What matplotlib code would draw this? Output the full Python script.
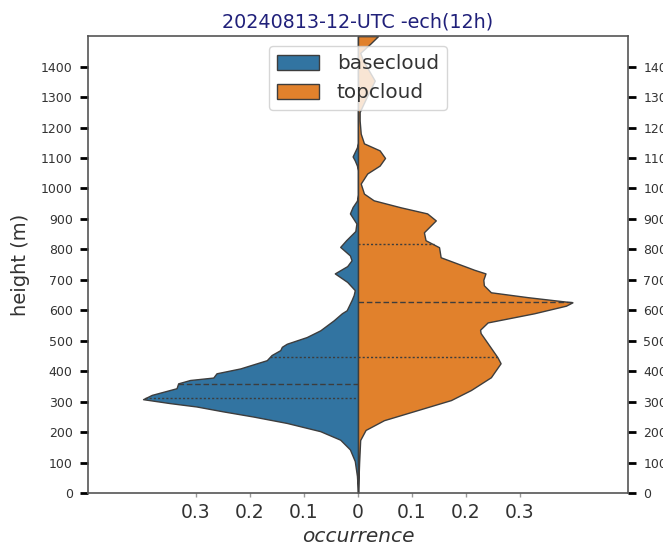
import numpy as np
import matplotlib
matplotlib.use("Agg")
import matplotlib.pyplot as plt
from matplotlib.patches import Patch

# profile: height (m) -> half-width of the violin (occurrence)
base_h = [0, 56, 105, 143, 175, 203, 230, 251, 268, 284, 295, 308, 322, 344, 360,
          371, 379, 393, 409, 436, 453, 469, 480, 490, 512, 534, 567, 590, 600, 633,
          650, 666, 693, 721, 745, 764, 780, 808, 830, 860, 885, 918, 939, 960, 980,
          1060, 1075, 1092, 1105, 1120, 1135, 1150, 1500]
base_w = [0, 0.002, 0.006, 0.015, 0.033, 0.07, 0.132, 0.194, 0.25, 0.299, 0.348, 0.398,
          0.382, 0.336, 0.333, 0.311, 0.268, 0.262, 0.218, 0.169, 0.16, 0.144, 0.141,
          0.132, 0.095, 0.07, 0.045, 0.03, 0.021, 0.012, 0.008, 0.006, 0.02, 0.043,
          0.02, 0.012, 0.015, 0.033, 0.022, 0.005, 0.003, 0.015, 0.01, 0.002, 0,
          0, 0.002, 0.006, 0.01, 0.006, 0.002, 0, 0]

top_h = [0, 98, 174, 207, 239, 272, 305, 338, 380, 426, 446, 492, 525, 536, 560, 590,
         615, 626, 643, 659, 682, 700, 721, 733, 741, 774, 807, 830, 856, 895, 918, 938,
         961, 983, 1016, 1049, 1075, 1100, 1125, 1148, 1180, 1223, 1251, 1300, 1354,
         1418, 1445, 1474, 1500]
top_w = [0, 0.002, 0.004, 0.014, 0.048, 0.11, 0.172, 0.209, 0.246, 0.264, 0.258, 0.24,
         0.227, 0.226, 0.24, 0.326, 0.385, 0.397, 0.314, 0.246, 0.233, 0.232, 0.236,
         0.215, 0.203, 0.153, 0.15, 0.125, 0.122, 0.144, 0.128, 0.079, 0.029, 0.011,
         0.005, 0.017, 0.04, 0.05, 0.04, 0.011, 0.005, 0.003, 0.003, 0.016, 0.031,
         0.01, 0.004, 0.022, 0.037]

# quartiles (Q1, median, Q3)
base_q = [311, 357, 446]
top_q = [446, 626, 816]

yticks = list(range(0, 1500, 100))
xticks = [-0.3, -0.2, -0.1, 0, 0.1, 0.2, 0.3]
xlabels = ["0.3", "0.2", "0.1", "0", "0.1", "0.2", "0.3"]

blue = "#3274a1"
orange = "#e1812c"
edge = "#3d3d3d"

fig = plt.figure(figsize=(6.63, 5.48), dpi=100)
ax = fig.add_axes([0.1327, 0.1004, 0.8146, 0.8336])

ax.fill_betweenx(base_h, -np.array(base_w), 0, facecolor=blue, edgecolor=edge, lw=1)
ax.fill_betweenx(top_h, 0, top_w, facecolor=orange, edgecolor=edge, lw=1)

styles = [(0, (1.5, 1.5)), (0, (4, 2)), (0, (1.5, 1.5))]
for q, ls in zip(base_q, styles):
    w = np.interp(q, base_h, base_w)
    ax.plot([-w, 0], [q, q], color=edge, lw=1, ls=ls)
for q, ls in zip(top_q, styles):
    w = np.interp(q, top_h, top_w)
    ax.plot([0, w], [q, q], color=edge, lw=1, ls=ls)

ax.set_xlim(-0.5, 0.5)
ax.set_ylim(0, 1500)
ax.set_yticks(yticks)
ax.set_xticks(xticks)
ax.set_xticklabels(xlabels, fontsize=13.5, color="#333333")
ax.tick_params(axis="y", labelsize=9, labelcolor="#333333", length=6, width=2,
               right=True, labelright=True, direction="out", pad=5)
ax.tick_params(axis="x", length=3, width=1, color="#999999", pad=4.5)
for s in ax.spines.values():
    s.set_color("#555555")
    s.set_linewidth(1.2)

ax.set_xlabel("occurrence", fontsize=14.5, style="italic", color="#333333", labelpad=3)
ax.set_ylabel("height (m)", fontsize=14, color="#333333", labelpad=8)
ax.set_title("20240813-12-UTC -ech(12h)", fontsize=13.8, color="#20207a", pad=6)

handles = [Patch(facecolor=blue, edgecolor=edge, label="basecloud"),
           Patch(facecolor=orange, edgecolor=edge, label="topcloud")]
ax.legend(handles=handles, loc="upper center", fontsize=14.4, handlelength=2.1,
          handleheight=0.8, handletextpad=0.9, labelcolor="#333333")

fig.savefig("out.png", dpi=100)
